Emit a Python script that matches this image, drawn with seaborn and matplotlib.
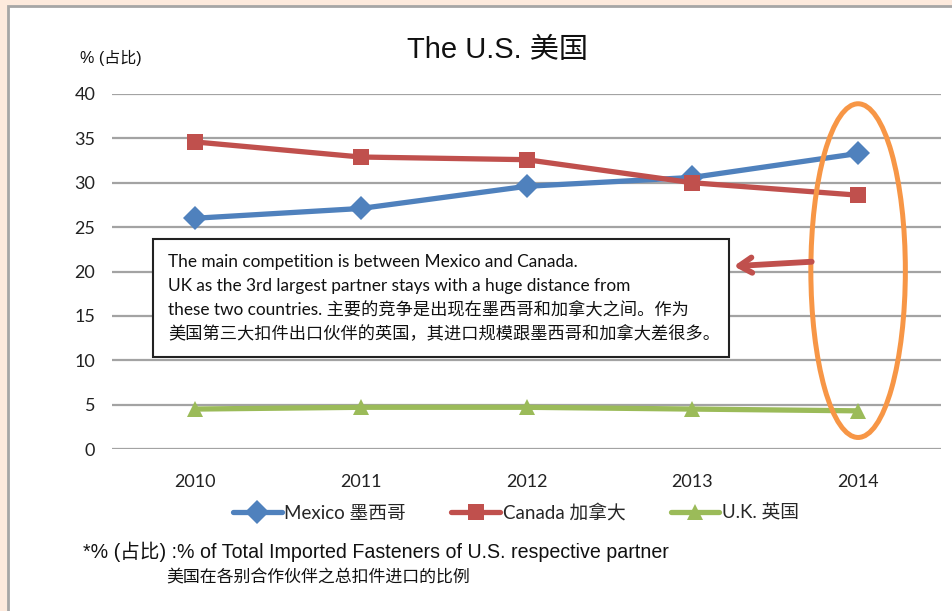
import matplotlib
matplotlib.use("Agg")
import matplotlib.pyplot as plt
import seaborn as sns
import pandas as pd
from matplotlib.patches import Rectangle, Ellipse

years = [2010, 2011, 2012, 2013, 2014]
mexico = [26.0, 27.1, 29.6, 30.6, 33.3]
canada = [34.6, 32.9, 32.6, 30.0, 28.6]
uk = [4.5, 4.7, 4.7, 4.5, 4.3]
series_names = ["Mexico 墨西哥", "Canada 加拿大", "U.K. 英国"]
colors = ["#4f81bd", "#c0504d", "#9bbb59"]
markers = ["D", "s", "^"]
yticks = [0, 5, 10, 15, 20, 25, 30, 35, 40]

title = "The U.S. 美国"
ylabel = "% (占比)"
box_lines = [
    "The main competition is between Mexico and Canada.",
    "UK as the 3rd largest partner stays with a huge distance from",
    "these two countries. 主要的竞争是出现在墨西哥和加拿大之间。作为",
    "美国第三大扣件出口伙伴的英国，其进口规模跟墨西哥和加拿大差很多。",
]
foot1 = "*% (占比) :% of Total Imported Fasteners of U.S. respective partner"
foot2 = "美国在各别合作伙伴之总扣件进口的比例"

df = pd.DataFrame({
    "year": years * 3,
    "value": mexico + canada + uk,
    "series": [series_names[0]] * 5 + [series_names[1]] * 5 + [series_names[2]] * 5,
})

sns.set_style("white")
W, H = 952, 611
fig = plt.figure(figsize=(W / 100, H / 100), dpi=100)
fig.patch.set_facecolor("#fdeadd")

def fx(px):
    return px / W
def fy(py):
    return 1 - py / H

panel = Rectangle((fx(8), -0.1), 1.2, fy(6) + 0.1, transform=fig.transFigure,
                  facecolor="white", edgecolor="#a6a6a6", lw=2, zorder=-5)
fig.patches.append(panel)

ax = fig.add_axes([fx(112), fy(449), fx(941) - fx(112), fy(94) - fy(449)])
ax.set_facecolor("none")
ax.set_zorder(2)

sns.lineplot(data=df, x="year", y="value", hue="series", style="series",
             palette=dict(zip(series_names, colors)),
             markers=dict(zip(series_names, markers)),
             dashes=False, lw=3.8, markersize=12, markeredgewidth=0,
             ax=ax, legend=True, zorder=3)

ax.set_xlim(2009.5, 2014.5)
ax.set_ylim(0, 40)
ax.set_yticks(yticks)
ax.set_xticks(years)
ax.set_xticklabels([str(y) for y in years])
ax.grid(axis="y", color="#a3a3a3", lw=1.6, zorder=1)
ax.grid(axis="x", visible=False)
for s in ax.spines.values():
    s.set_visible(False)
ax.tick_params(axis="y", length=0, pad=12, labelsize=13)
ax.tick_params(axis="x", length=0, pad=18, labelsize=13)
for lab in ax.get_xticklabels() + ax.get_yticklabels():
    lab.set_family(["Lato", "DejaVu Sans"])
    lab.set_color("#222222")
ax.set_xlabel("")
ax.set_ylabel("")

handles, labels = ax.get_legend_handles_labels()
ax.get_legend().remove()
leg = fig.legend(handles, labels, loc="center", bbox_to_anchor=(fx(516), fy(513)),
                 ncol=3, frameon=False, handlelength=2.6, handletextpad=0.15,
                 columnspacing=2.4,
                 prop={"family": ["Lato", "Noto Sans CJK SC"], "size": 13.5})

fig.text(fx(497), fy(50), title, ha="center", va="center", fontsize=21,
         family=["Liberation Sans Narrow", "Liberation Sans", "Noto Sans CJK SC"],
         color="#111111")
fig.text(fx(80), fy(58), ylabel, ha="left", va="center", fontsize=11.5,
         family=["Liberation Sans Narrow", "Liberation Sans", "Noto Sans CJK SC"],
         color="#111111")

ell = Ellipse((2014, 20.1), width=0.57, height=37.6, fill=False,
              edgecolor="#f79646", lw=3.6, zorder=6, clip_on=False)
ax.add_patch(ell)

box = Rectangle((fx(153), fy(357)), fx(729) - fx(153), fy(239) - fy(357),
                transform=fig.transFigure, facecolor="white", edgecolor="#222222",
                lw=1.5, zorder=7)
ax.add_patch(box)
for i, line in enumerate(box_lines):
    ax.text(fx(168), fy(262 + 24 * i), line, transform=fig.transFigure,
            ha="left", va="center", fontsize=12.4,
            family=["Lato", "Noto Sans CJK SC"], color="#111111", zorder=8)

ax.annotate("", xy=(2013.25, 20.6), xytext=(2013.72, 21.1),
            arrowprops=dict(arrowstyle="->,head_length=0.9,head_width=0.55",
                            color="#c0504d", lw=4.2, shrinkA=0, shrinkB=0),
            zorder=9, annotation_clip=False)

fig.text(fx(83), fy(552), foot1, ha="left", va="center", fontsize=14.1,
         family=["Liberation Sans", "Noto Sans CJK SC"], color="#111111")
fig.text(fx(166), fy(578), foot2, ha="left", va="center", fontsize=12.2,
         family=["Noto Sans CJK SC"], color="#111111")

fig.savefig("out.png", dpi=100, facecolor=fig.get_facecolor())
